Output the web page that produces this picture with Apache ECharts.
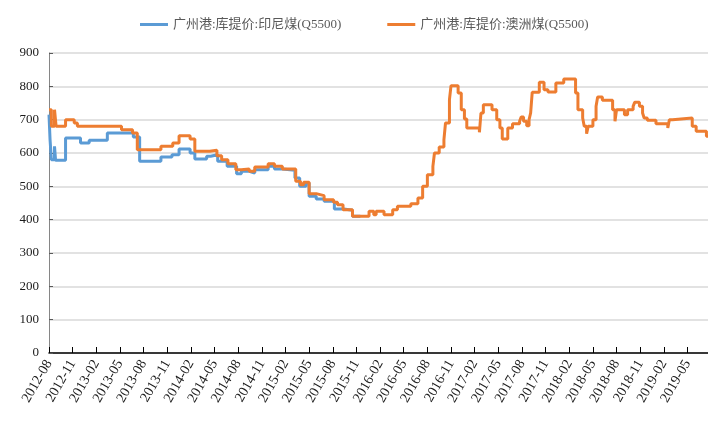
<!DOCTYPE html>
<html>
<head>
<meta charset="utf-8">
<script src="https://cdn.jsdelivr.net/npm/echarts@6/dist/echarts.min.js"></script>
<style>
html, body { margin: 0; padding: 0; background: #fff; }
#main { width: 708px; height: 428px; }
</style>
</head>
<body>
<div id="main"></div>
<script>
// 图例名称
var names = ['广州港:库提价:印尼煤(Q5500)', '广州港:库提价:澳洲煤(Q5500)'];

// 印尼煤: 价格变动日期 / 价格
var yinniDates = ['2012-08-01', '2012-08-05', '2012-08-10', '2012-08-22', '2012-08-26', '2012-10-04', '2012-12-01', '2013-01-04',
    '2013-03-13', '2013-06-22', '2013-07-16', '2013-10-07', '2013-11-19', '2013-12-16', '2014-01-28', '2014-02-16',
    '2014-04-01', '2014-04-16', '2014-05-13', '2014-06-19', '2014-07-25', '2014-08-13', '2014-09-13', '2014-10-04',
    '2014-11-25', '2014-12-19', '2015-01-19', '2015-03-07', '2015-03-25', '2015-04-19', '2015-05-01', '2015-05-28',
    '2015-06-28', '2015-08-07', '2015-09-13', '2015-10-16', '2015-11-16'];
var yinniValues = [715, 640, 580, 620, 578, 645, 630, 638,
    660, 648, 575, 588, 595, 612, 600, 582,
    590, 595, 575, 560, 538, 545, 540, 550,
    560, 552, 548, 525, 500, 510, 470, 462,
    455, 432, 428, 410, 410];

// 澳洲煤: 价格变动日期 / 价格
var aozhouDates = ['2012-08-01', '2012-08-10', '2012-08-22', '2012-08-28', '2012-10-04', '2012-11-07', '2012-11-19', '2013-05-07',
    '2013-06-19', '2013-07-07', '2013-10-07', '2013-11-22', '2013-12-16', '2014-01-28', '2014-02-16', '2014-04-13',
    '2014-05-10', '2014-05-28', '2014-06-22', '2014-07-22', '2014-08-13', '2014-09-13', '2014-10-04', '2014-11-25',
    '2014-12-19', '2015-01-19', '2015-03-10', '2015-03-28', '2015-04-10', '2015-05-01', '2015-05-28', '2015-06-28',
    '2015-08-04', '2015-08-19', '2015-09-10', '2015-10-16', '2015-12-19', '2016-01-07', '2016-01-16', '2016-02-16',
    '2016-03-19', '2016-04-07', '2016-05-28', '2016-06-25', '2016-07-13', '2016-08-01', '2016-08-22', '2016-08-28',
    '2016-09-16', '2016-10-04', '2016-10-10', '2016-10-25', '2016-11-01', '2016-11-28', '2016-12-10', '2016-12-22',
    '2017-01-01', '2017-02-19', '2017-02-25', '2017-03-04', '2017-04-07', '2017-04-25', '2017-05-07', '2017-05-16',
    '2017-06-07', '2017-06-25', '2017-07-22', '2017-07-28', '2017-08-07', '2017-08-19', '2017-08-28', '2017-09-04',
    '2017-09-10', '2017-10-07', '2017-10-25', '2017-11-10', '2017-12-10', '2018-01-10', '2018-02-25', '2018-03-04',
    '2018-03-22', '2018-03-28', '2018-04-07', '2018-04-13', '2018-05-01', '2018-05-13', '2018-05-19', '2018-06-07',
    '2018-07-16', '2018-07-25', '2018-08-01', '2018-09-01', '2018-09-13', '2018-10-04', '2018-10-10', '2018-10-28',
    '2018-11-10', '2018-11-16', '2018-11-28', '2019-01-01', '2019-02-16', '2019-02-22', '2019-03-04', '2019-05-19',
    '2019-06-04', '2019-07-13', '2019-07-19'];
var aozhouValues = [730, 680, 730, 680, 700, 690, 680, 670,
    660, 610, 620, 630, 652, 642, 605, 608,
    592, 580, 568, 550, 552, 545, 558, 568,
    560, 552, 515, 505, 512, 478, 472, 460,
    452, 445, 430, 410, 425, 415, 425, 415,
    430, 440, 448, 465, 500, 535, 560, 600,
    618, 640, 690, 760, 802, 780, 730, 702,
    675, 662, 720, 745, 730, 700, 675, 642,
    675, 688, 695, 708, 695, 682, 700, 720,
    782, 812, 790, 783, 810, 822, 780, 730,
    705, 680, 658, 680, 700, 740, 768, 758,
    730, 695, 730, 715, 730, 740, 752, 740,
    720, 705, 698, 688, 675, 700, 705, 680,
    665, 650, 650];

// 坐标轴
var yTicks = [0, 100, 200, 300, 400, 500, 600, 700, 800, 900];
var xEnd = 83.6; // 横轴终点(距 2012-08 的月数)

// 日期 -> 距 2012-08 的月数
function toM(d) {
    var p = d.split('-');
    return (parseInt(p[0]) - 2012) * 12 + (parseInt(p[1]) - 8) + (parseInt(p[2]) - 1) / 30;
}
function pairs(dates, values) {
    var out = [];
    for (var i = 0; i < dates.length; i++) {
        out.push([toM(dates[i]), values[i]]);
    }
    return out;
}
function monthLabel(v) {
    var n = 7 + Math.round(v);
    var y = 2012 + Math.floor(n / 12);
    var m = n % 12 + 1;
    return y + '-' + (m < 10 ? '0' + m : m);
}

var serif = '"Liberation Serif", "Noto Sans CJK SC", serif';
var chart = echarts.init(document.getElementById('main'));
var option = {
    animation: false,
    backgroundColor: '#fff',
    legend: {
        top: 13,
        left: 135,
        itemGap: 46,
        itemWidth: 28,
        itemHeight: 3,
        icon: 'rect',
        textStyle: { fontFamily: serif, fontSize: 13, color: '#595959' },
        data: names
    },
    grid: { left: 49, right: 0, top: 53, bottom: 75, containLabel: false },
    xAxis: {
        type: 'value',
        min: 0,
        max: xEnd,
        interval: 3,
        splitLine: { show: false },
        axisLine: { lineStyle: { color: '#000', width: 1.5 } },
        axisTick: { inside: true, length: 6, lineStyle: { color: '#000' } },
        axisLabel: {
            rotate: 60,
            margin: 8,
            showMaxLabel: false,
            fontFamily: serif,
            fontSize: 14,
            color: '#1a1a1a',
            formatter: monthLabel
        }
    },
    yAxis: {
        type: 'value',
        min: yTicks[0],
        max: yTicks[yTicks.length - 1],
        interval: 100,
        axisLine: { show: true, lineStyle: { color: '#868686' } },
        axisTick: { show: true, inside: true, length: 4, lineStyle: { color: '#595959' } },
        splitLine: { lineStyle: { color: '#d9d9d9', width: 1.5 } },
        axisLabel: { margin: 10, fontFamily: serif, fontSize: 13, color: '#1a1a1a' }
    },
    series: [
        {
            name: names[0],
            type: 'line',
            step: 'end',
            showSymbol: false,
            color: '#5b9bd5',
            lineStyle: { width: 3 },
            data: pairs(yinniDates, yinniValues)
        },
        {
            name: names[1],
            type: 'line',
            step: 'end',
            showSymbol: false,
            color: '#ed7d31',
            lineStyle: { width: 3 },
            data: pairs(aozhouDates, aozhouValues)
        }
    ]
};
chart.setOption(option);
</script>
</body>
</html>
